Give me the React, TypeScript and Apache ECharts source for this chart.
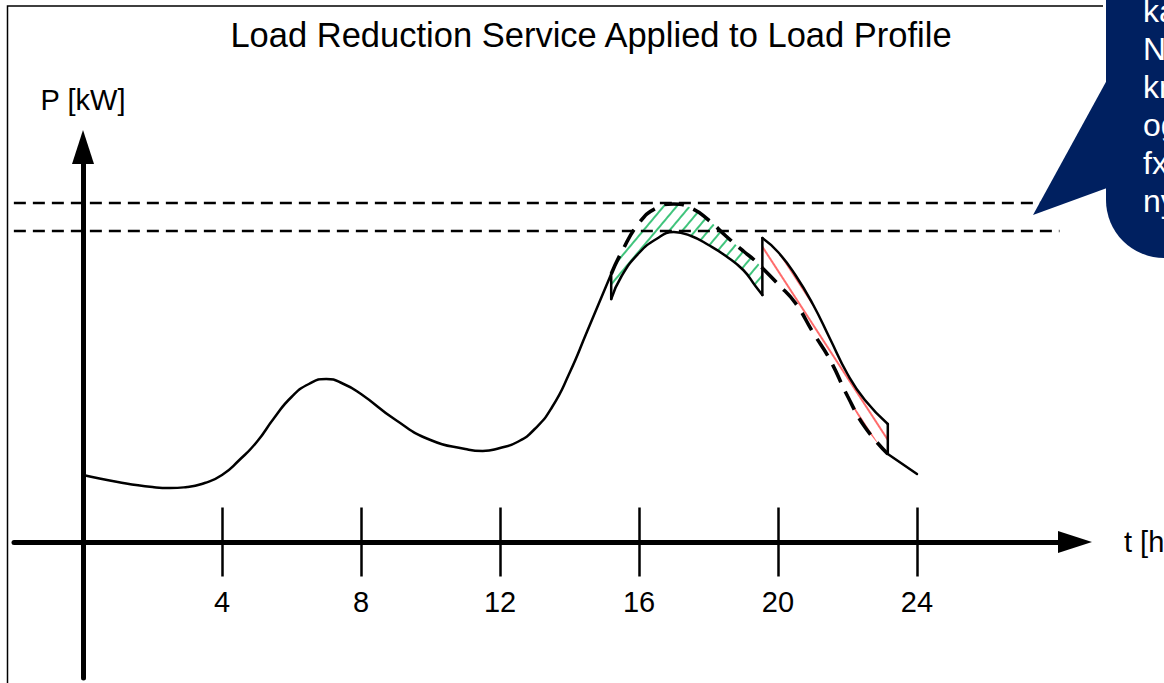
import React, { useEffect, useRef } from 'react';
import * as echarts from 'echarts';

// ---------- data (t in hours, P in arbitrary kW units) ----------
const hourTicks = [4, 8, 12, 16, 20, 24];

// base load profile up to the start of the service window
const tLeft = [0, 1, 2, 2.5, 3, 3.5, 4, 4.5, 5, 5.5, 6, 6.5, 7, 7.5, 8, 9, 10, 11, 11.5, 12, 12.5, 13, 13.5, 14, 14.5, 15.2];
const pLeft = [6.7, 6.0, 5.5, 5.4, 5.5, 5.9, 6.7, 8.2, 10.0, 12.4, 14.5, 15.8, 16.3, 15.8, 14.8, 12.2, 10.2, 9.3, 9.1, 9.4, 10.0, 11.3, 13.5, 16.9, 21.0, 26.8];

// reduction window: original (dashed) and reduced (solid)
const eventT = [15.2, 15.5, 16, 16.5, 17, 17.5, 18, 18.5, 19, 19.35, 19.55];
const pOrigEvent = [26.8, 29.0, 31.9, 33.4, 33.8, 33.4, 32.2, 30.6, 29.1, 28.1, 27.4];
const pReduced = [24.3, 26.6, 28.9, 30.3, 31.0, 30.6, 29.7, 28.6, 27.2, 25.6, 24.7];

// rebound window: original (dashed) and rebound (solid)
const reboundT = [19.55, 20, 20.5, 21, 21.5, 22, 22.5, 23.16];
const pOrigRebound = [27.4, 25.8, 23.9, 21.0, 18.2, 14.6, 11.5, 8.8];
const pRebound = [30.4, 29.0, 26.7, 23.8, 20.3, 16.8, 14.2, 11.8];

// tail of the profile
const tailT = [23.16, 24];
const pTail = [8.8, 6.8];

// horizontal limit lines
const upperLimit = 33.9;
const lowerLimit = 31.1;
const limitSpan = [-1.99, 28.1];

const titleText = 'Load Reduction Service Applied to Load Profile';
const calloutLines = ['ka', 'N', 'kr', 'og', 'fx', 'ny'];

// ---------- helpers ----------
const zip = (xs: number[], ys: number[]) => xs.map((x, i) => [x, ys[i]]);
const FONT = '"Liberation Sans", Arial, Helvetica, sans-serif';

const greenDecal = {
  symbol: 'rect',
  symbolSize: 1,
  symbolKeepAspect: false,
  color: 'rgba(0,176,80,0.75)',
  backgroundColor: 'rgba(0,0,0,0)',
  dashArrayX: [1, 0],
  dashArrayY: [1.4, 7.6],
  rotation: (-50 * Math.PI) / 180,
};
const redDecal = {
  symbol: 'rect',
  symbolSize: 1,
  symbolKeepAspect: false,
  color: 'rgba(255,30,30,0.65)',
  backgroundColor: 'rgba(0,0,0,0)',
  dashArrayX: [1, 0],
  dashArrayY: [1.8, 9],
  rotation: (57 * Math.PI) / 180,
};

function solidLine(data: number[][], smooth: boolean | number) {
  return {
    type: 'line',
    data,
    smooth,
    symbol: 'none',
    showSymbol: false,
    silent: true,
    z: 3,
    lineStyle: { color: '#000', width: 2.5, type: 'solid', cap: 'round', join: 'round' },
  };
}
function dashedCurve(data: number[][]) {
  return {
    type: 'line',
    data,
    smooth: true,
    symbol: 'none',
    showSymbol: false,
    silent: true,
    z: 4,
    lineStyle: { color: '#000', width: 3.6, type: [20, 10], cap: 'butt' },
  };
}
function limitLine(v: number) {
  return {
    type: 'line',
    data: [[limitSpan[0], v], [limitSpan[1], v]],
    symbol: 'none',
    showSymbol: false,
    silent: true,
    z: 3,
    lineStyle: { color: '#000', width: 2.5, type: [12, 7] },
  };
}
// band between a lower and an upper curve: stacked on the value (y) dimension,
// data given as [value, t] with encode so that the value column comes first
function bandBase(ts: number[], lower: number[], stack: string) {
  return {
    type: 'line',
    data: zip(lower, ts),
    encode: { x: 1, y: 0 },
    stack,
    smooth: true,
    symbol: 'none',
    showSymbol: false,
    silent: true,
    z: 1,
    lineStyle: { width: 0, opacity: 0 },
  };
}
function bandTop(ts: number[], lower: number[], upper: number[], stack: string, decal: any) {
  return {
    type: 'line',
    data: zip(upper.map((u, i) => u - lower[i]), ts),
    encode: { x: 1, y: 0 },
    stack,
    smooth: true,
    symbol: 'none',
    showSymbol: false,
    silent: true,
    z: 1,
    lineStyle: { width: 0, opacity: 0, decal },
    itemStyle: { decal },
    areaStyle: { color: 'rgba(255,255,255,0)', opacity: 1 },
  };
}

const X_MIN = -1.986;
const X_MAX = 28.547;
const AXIS_OFFSET = -136; // moves the x axes from the grid bottom (y=678) up to P = 0 (y=542)

const option: any = {
  animation: false,
  backgroundColor: '#ffffff',
  grid: {
    left: 14,
    right: 89,
    top: 147,
    bottom: 5,
    containLabel: false,
    outerBoundsMode: 'none',
  },
  xAxis: [
    {
      type: 'value',
      min: X_MIN,
      max: X_MAX,
      position: 'bottom',
      offset: AXIS_OFFSET,
      z: 5,
      axisLine: {
        show: true,
        onZero: false,
        symbol: ['none', 'triangle'],
        symbolSize: [22, 34],
        lineStyle: { color: '#000', width: 5 },
      },
      axisTick: {
        show: true,
        customValues: hourTicks,
        length: 34.5,
        lineStyle: { color: '#000', width: 2.5 },
      },
      axisLabel: {
        show: true,
        customValues: hourTicks,
        margin: 45.5,
        color: '#000',
        fontSize: 29,
        fontFamily: FONT,
      },
      splitLine: { show: false },
      name: 't [h]',
      nameLocation: 'end',
      nameGap: 49,
      nameTextStyle: { color: '#000', fontSize: 29, fontFamily: FONT, align: 'left', verticalAlign: 'middle' },
    },
    {
      type: 'value',
      min: X_MIN,
      max: X_MAX,
      position: 'bottom',
      offset: AXIS_OFFSET,
      z: 5,
      axisLine: { show: false, onZero: false },
      axisTick: {
        show: true,
        inside: true,
        customValues: hourTicks,
        length: 34.5,
        lineStyle: { color: '#000', width: 2.5 },
      },
      axisLabel: { show: false },
      splitLine: { show: false },
    },
  ],
  yAxis: {
    type: 'value',
    min: -13.6,
    max: 39.5,
    z: 5,
    axisLine: {
      show: true,
      onZero: true,
      symbol: ['none', 'triangle'],
      symbolSize: [22, 34],
      lineStyle: { color: '#000', width: 5 },
    },
    axisTick: { show: false },
    axisLabel: { show: false },
    splitLine: { show: false },
    name: 'P [kW]',
    nameLocation: 'end',
    nameGap: 47,
    nameTextStyle: { color: '#000', fontSize: 29, fontFamily: FONT, align: 'center', verticalAlign: 'middle' },
  },
  series: [
    // hatched bands (green: reduction, red: rebound)
    bandBase(eventT, pReduced, 'reduction'),
    bandTop(eventT, pReduced, pOrigEvent, 'reduction', greenDecal),
    bandBase(reboundT, pOrigRebound, 'rebound'),
    bandTop(reboundT, pOrigRebound, pRebound, 'rebound', redDecal),
    // limit lines
    limitLine(upperLimit),
    limitLine(lowerLimit),
    // modified load profile (solid)
    solidLine(zip(tLeft, pLeft), 0.55),
    solidLine([[eventT[0], pOrigEvent[0]], [eventT[0], pReduced[0]]], false),
    solidLine(zip(eventT, pReduced), true),
    solidLine([[reboundT[0], pReduced[pReduced.length - 1]], [reboundT[0], pRebound[0]]], false),
    solidLine(zip(reboundT, pRebound), true),
    solidLine(
      [[reboundT[reboundT.length - 1], pRebound[pRebound.length - 1]], [reboundT[reboundT.length - 1], pOrigRebound[pOrigRebound.length - 1]]],
      false
    ),
    solidLine(zip(tailT, pTail), false),
    // original profile inside the service window (dashed)
    dashedCurve(zip(eventT, pOrigEvent)),
    dashedCurve(zip(reboundT, pOrigRebound)),
  ],
  graphic: {
    elements: [
      {
        type: 'polyline',
        silent: true,
        z: 50,
        shape: { points: [[7.5, 700], [7.5, 6], [1103, 6]] },
        style: { stroke: '#000', lineWidth: 1.5, fill: 'none' },
      },
      {
        type: 'text',
        silent: true,
        z: 50,
        x: 591,
        y: 35,
        style: {
          text: titleText,
          font: `34.5px ${FONT}`,
          fill: '#000',
          align: 'center',
          verticalAlign: 'middle',
        },
      },
      {
        type: 'rect',
        silent: true,
        z: 100,
        shape: { x: 1106, y: -60, width: 120, height: 318, r: [0, 0, 0, 58] },
        style: { fill: '#002060' },
      },
      {
        type: 'polygon',
        silent: true,
        z: 100,
        shape: { points: [[1107, 80], [1033, 215], [1107, 188]] },
        style: { fill: '#002060' },
      },
      {
        type: 'text',
        silent: true,
        z: 101,
        x: 1143,
        y: -8.5,
        style: {
          text: calloutLines.join('\n'),
          font: `32px ${FONT}`,
          fill: '#ffffff',
          lineHeight: 38,
          align: 'left',
          verticalAlign: 'top',
        },
      },
    ],
  },
};

export default function App() {
  const ref = useRef<HTMLDivElement>(null);
  useEffect(() => {
    if (!ref.current) return;
    const chart = echarts.init(ref.current, null, { renderer: 'svg', width: 1164, height: 683 });
    chart.setOption(option);
    return () => {
      chart.dispose();
    };
  }, []);
  return (
    <div
      ref={ref}
      style={{ position: 'fixed', left: 0, top: 0, width: 1164, height: 683, background: '#ffffff', overflow: 'hidden' }}
    />
  );
}
